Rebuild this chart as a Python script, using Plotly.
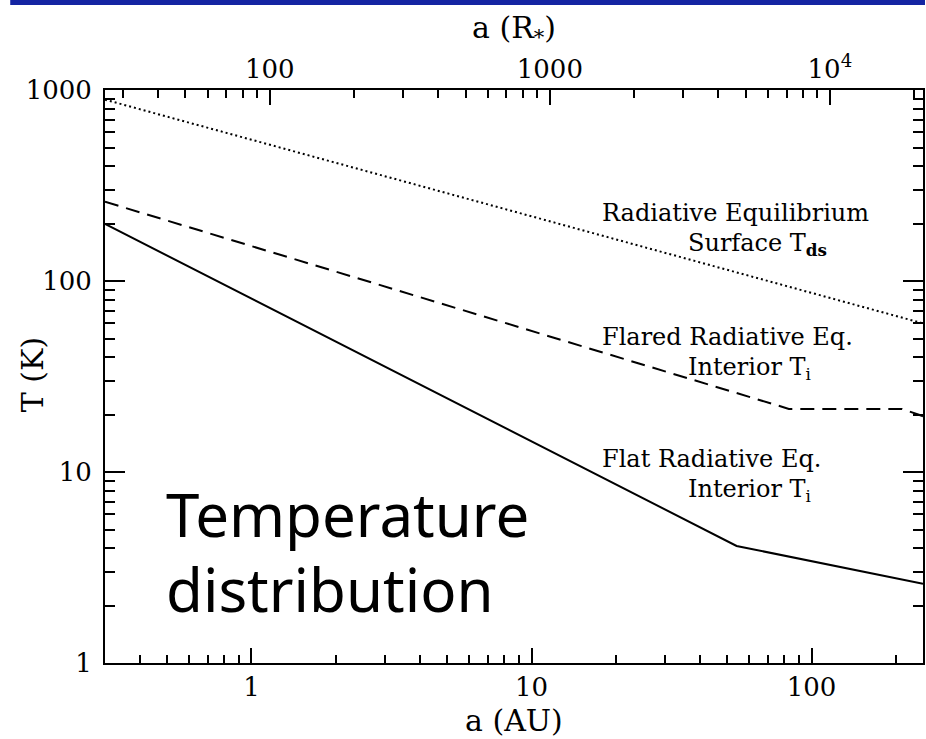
import math
import plotly.graph_objects as go

# Conversion between AU and stellar radii (R* = 2.5 R_sun)
AU_TO_RSTAR = 86.0

# Radiative-equilibrium surface temperature T_ds
a_surface = [0.3, 250]
T_surface = [890, 60]

# Flared disk, radiative-equilibrium interior temperature T_i
a_flared = [0.3, 83, 210, 250]
T_flared = [260, 21.4, 21.4, 19.6]

# Flat disk, radiative-equilibrium interior temperature T_i
a_flat = [0.3, 54, 250]
T_flat = [199, 4.1, 2.6]

x_range_au = [0.3, 250]
y_range_k = [1, 1000]

bottom_ticks = [1, 10, 100]
left_ticks = [1, 10, 100, 1000]
top_ticks = [100, 1000, 10000]
top_ticktext = ["100", "1000", "10<sup>4</sup>"]

W, H = 926, 739
ML, MR, MT, MB = 105, 1, 90, 76
PW, PH = W - ML - MR, H - MT - MB


def px(x):
    return (x - ML) / PW


def py(y):
    return (H - MB - y) / PH


def minor_vals(e0, e1):
    return [d * 10 ** e for e in range(e0, e1) for d in range(2, 10)]


SERIF = "DejaVu Serif"
tick_font = dict(family=SERIF, size=26, color="black")

fig = go.Figure()
fig.add_trace(go.Scatter(x=a_surface, y=T_surface, mode="lines",
                         line=dict(color="black", width=2, dash="2px,3px"),
                         showlegend=False, hoverinfo="skip"))
fig.add_trace(go.Scatter(x=a_flared, y=T_flared, mode="lines",
                         line=dict(color="black", width=2, dash="14px,8px"),
                         showlegend=False, hoverinfo="skip"))
fig.add_trace(go.Scatter(x=a_flat, y=T_flat, mode="lines",
                         line=dict(color="black", width=2),
                         showlegend=False, hoverinfo="skip"))
# invisible carrier trace for the stellar-radius axis on top
fig.add_trace(go.Scatter(x=[a * AU_TO_RSTAR for a in x_range_au], y=y_range_k,
                         xaxis="x2", mode="lines", line=dict(width=0),
                         showlegend=False, hoverinfo="skip"))

xr = [math.log10(v) for v in x_range_au]
xr2 = [math.log10(v * AU_TO_RSTAR) for v in x_range_au]
yr = [math.log10(v) for v in y_range_k]

fig.update_layout(
    width=W, height=H, autosize=False,
    margin=dict(l=ML, r=MR, t=MT, b=MB, pad=0),
    paper_bgcolor="white", plot_bgcolor="white",
    xaxis=dict(type="log", range=xr, showgrid=False, zeroline=False,
               showline=True, linecolor="black", linewidth=2, mirror=False,
               ticks="inside", ticklen=15, tickwidth=2, tickcolor="black",
               tickmode="array", tickvals=bottom_ticks,
               ticktext=[str(v) for v in bottom_ticks],
               tickfont=tick_font, ticklabelstandoff=0,
               minor=dict(tickmode="array", tickvals=minor_vals(-1, 3),
                          ticks="inside", ticklen=8, tickwidth=2,
                          tickcolor="black", showgrid=False)),
    xaxis2=dict(type="log", range=xr2, overlaying="x", side="top",
                anchor="y", showgrid=False, zeroline=False,
                showline=True, linecolor="black", linewidth=2,
                ticks="inside", ticklen=15, tickwidth=2, tickcolor="black",
                tickmode="array", tickvals=top_ticks, ticktext=top_ticktext,
                tickfont=tick_font, ticklabelstandoff=0,
                minor=dict(tickmode="array", tickvals=minor_vals(1, 5),
                           ticks="inside", ticklen=8, tickwidth=2,
                           tickcolor="black", showgrid=False)),
    yaxis=dict(type="log", range=yr, showgrid=False, zeroline=False,
               showline=True, linecolor="black", linewidth=2, mirror="ticks",
               ticks="inside", ticklen=20, tickwidth=2, tickcolor="black",
               tickmode="array", tickvals=left_ticks,
               ticktext=[str(v) for v in left_ticks],
               tickfont=tick_font, ticklabelstandoff=6,
               minor=dict(tickmode="array", tickvals=minor_vals(0, 3),
                          ticks="inside", ticklen=10, tickwidth=2,
                          tickcolor="black", showgrid=False)),
)

# header bar
fig.add_shape(type="rect", xref="paper", yref="paper",
              x0=px(10), x1=px(927), y0=py(5), y1=py(-1),
              fillcolor="#1424a2", line=dict(width=0), layer="above")

ann_font = dict(family=SERIF, size=24, color="black")
title_font = dict(family=SERIF, size=30, color="black")


def label(text, x, y, font, xanchor="left", textangle=0):
    fig.add_annotation(text=text, xref="paper", yref="paper",
                       x=px(x), y=py(y), xanchor=xanchor, yanchor="middle",
                       showarrow=False, font=font, textangle=textangle,
                       borderpad=0)


# axis titles
label("a (R<sub>*</sub>)", 515, 30, title_font, xanchor="center")
label("a (AU)", 515, 720, title_font, xanchor="center")
label("T (K)", 32, 375, title_font, xanchor="center", textangle=-90)

# curve labels
label("Radiative Equilibrium", 602, 213, ann_font)
label("Surface T<sub><b>ds</b></sub>", 688, 244, ann_font)
label("Flared Radiative Eq.", 602, 337, ann_font)
label("Interior T<sub>i</sub>", 688, 368, ann_font)
label("Flat Radiative Eq.", 602, 459, ann_font)
label("Interior T<sub>i</sub>", 688, 490, ann_font)

# slide caption
big_font = dict(family="Noto Sans", size=60, color="black")
label("Temperature", 165, 514, big_font)
label("distribution", 165, 589, big_font)

fig.write_html("out.html")
